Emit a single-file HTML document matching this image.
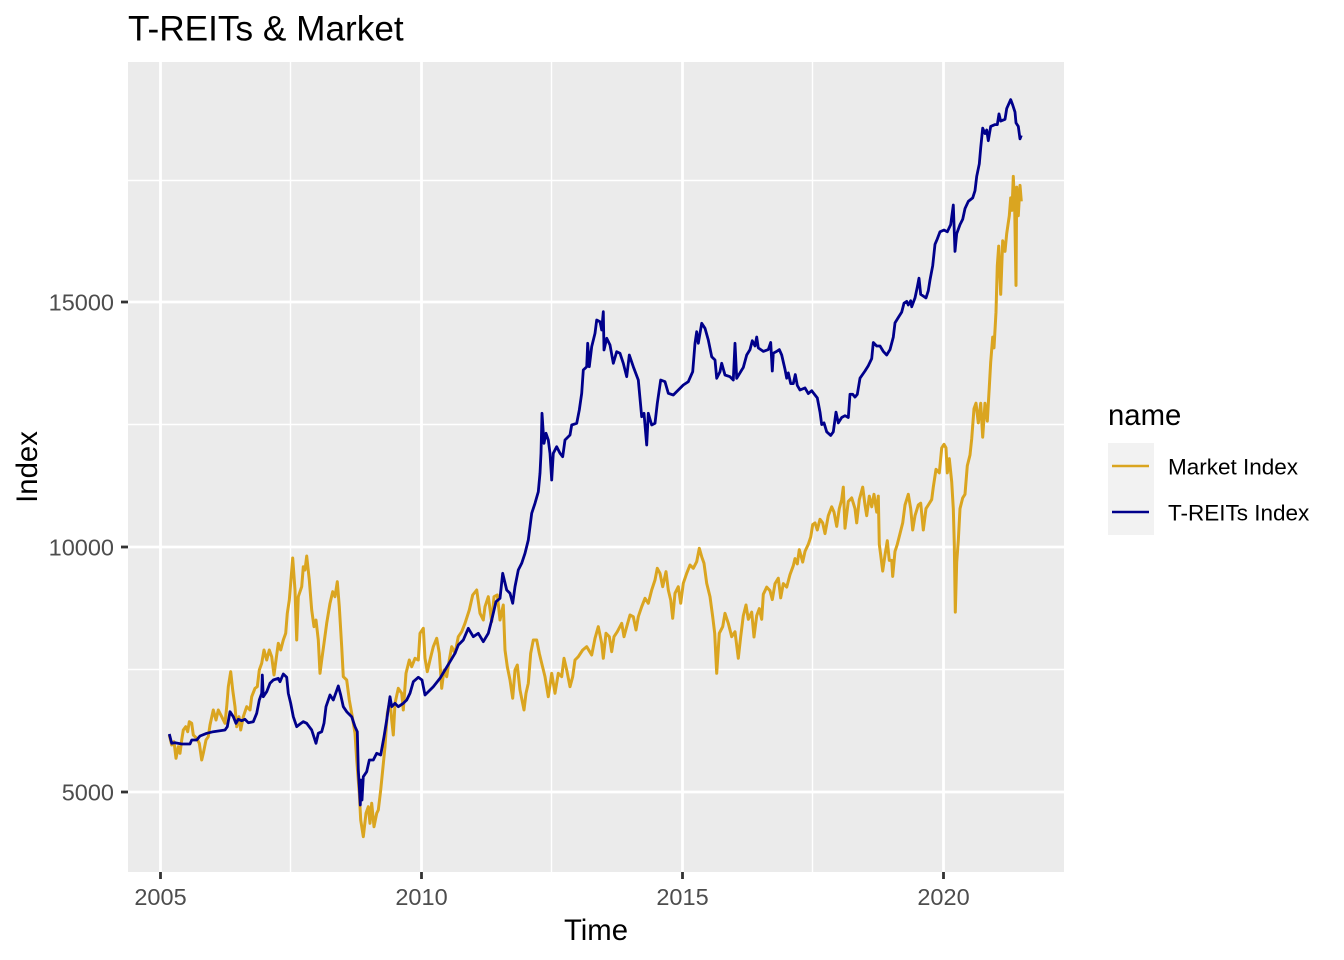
<!DOCTYPE html>
<html><head><meta charset="utf-8"><style>
html,body{margin:0;padding:0;background:#fff;}
svg{display:block;}
text{font-family:"Liberation Sans",Arial,sans-serif;}
</style></head><body>
<svg width="1344" height="960" viewBox="0 0 1344 960" xmlns="http://www.w3.org/2000/svg">
<rect x="0" y="0" width="1344" height="960" fill="#fff"/>
<text x="128" y="40.7" font-size="35.2" fill="#000">T-REITs &amp; Market</text>
<rect x="128" y="62" width="936" height="810" fill="#EBEBEB"/>
<g stroke="#fff" stroke-width="1.4">
<line x1="128" x2="1064" y1="180.5" y2="180.5"/>
<line x1="128" x2="1064" y1="424.5" y2="424.5"/>
<line x1="128" x2="1064" y1="669.5" y2="669.5"/>
<line x1="290.5" x2="290.5" y1="62" y2="872"/>
<line x1="551.5" x2="551.5" y1="62" y2="872"/>
<line x1="812.5" x2="812.5" y1="62" y2="872"/>
</g>
<g stroke="#fff" stroke-width="2.8">
<line x1="128" x2="1064" y1="302" y2="302"/>
<line x1="128" x2="1064" y1="547" y2="547"/>
<line x1="128" x2="1064" y1="792" y2="792"/>
<line x1="160.5" x2="160.5" y1="62" y2="872"/>
<line x1="421.5" x2="421.5" y1="62" y2="872"/>
<line x1="682.5" x2="682.5" y1="62" y2="872"/>
<line x1="943.5" x2="943.5" y1="62" y2="872"/>
</g>
<polyline fill="none" stroke="#DAA520" stroke-width="3.0" stroke-linejoin="round" points="169.3,735 171.7,745 174,741.7 176,758.3 178.3,746.7 180,753.3 181.7,740 183.3,730 185.7,726.7 187.7,731.7 189.3,721.7 191.7,723.3 193.3,735 196.7,738.3 199.3,743.3 201.7,760 203.3,753.3 206,740 208.3,736.7 210,725 213.3,710 216,720 218.3,710 221.7,716.7 225,723.3 226.7,706.7 228.3,686.7 230.7,671.7 232.7,690 235,706.7 236.7,726.7 239,716.7 240.7,730 243.3,716.7 246.7,706.7 250,710 251.7,696.7 255,688.3 257.3,686.7 259.3,670 261.7,663.3 264,650 266.7,660 269.3,650 271.7,656.7 274,675 276,660 278.3,643.3 280.7,650 283.3,640 285.7,633.3 287.3,613.3 289.3,600 290.7,583.3 292.7,558 295,590 296.7,640 298.3,596.7 301.7,586.7 303.3,566.7 305,570 306.7,556 309.3,580 311.7,610 314,626.7 316,620 318.3,640 320,673.3 321.7,660 324,643.3 326.7,623.3 330,603.3 332.7,591.7 335,596.7 337.3,581.7 339.3,606.7 341.7,646.7 343.3,676.7 346.7,680 349.3,700 351.7,713.3 355,733.3 356.7,760 359.3,793.3 360.7,820 363.3,836.7 366,813.3 368.3,806.7 370,823.3 371.7,803.3 374,826.7 376.7,813.3 378.3,810 380.7,790 382.7,770 385,746.7 387.3,713.3 390,700 391.7,720 393.3,735 395,703.3 398.3,688.3 401.7,693.3 403.3,710 406,673.3 409.3,660 411.7,666.7 415,658.3 418.3,660 420,633.3 423.3,628.3 425,658.3 427.3,671.7 430,660 433.3,646.7 436.7,638.3 439.3,653.3 441.7,688.3 444,670 446.7,676.7 449.3,660 451.7,646.7 455,653.3 458.3,636.7 461.7,631.7 465,623.3 469.3,610 472.7,595 476.7,590 480,613.3 483.3,620 485,606.7 488.3,596.7 491.7,621.7 494,596.7 497.3,595 500,620 503.3,605 505,650 507.3,666.7 510,680 512.7,698.3 515,670 517.3,665 520,690 524,710 526,693.3 528.3,683.3 530.7,653.3 533.3,640 536.7,640 539.3,653.3 541.7,663.3 545,676.7 548.3,696.7 551.7,673.3 555,693.3 558.3,673.3 561.7,676.7 564,658.3 566.7,670 570,686.7 572.7,676.7 575,660 578.3,656.7 582.7,650 586.7,646.7 591.7,655 595,638.3 598.3,626.7 601.7,643.3 603.3,658.3 606,633.3 609.3,636.7 611.7,651.7 614,636.7 617.3,631.7 621.7,623.3 624,636.7 626.7,626.7 630,615 633.3,616.7 636,630 638.3,616.7 641.7,606.7 645,598.3 648.3,603.3 651.7,590 655,580 657.3,568.3 660,573.3 662.7,586.7 666,571.7 668.3,590 670.7,600 672.7,618.3 675,593.3 678.3,586.7 680.7,603.3 683.3,583.3 686.7,573.3 690,565 693.3,568.3 696.7,561.7 699.3,548.3 701.7,556.7 704,563.3 706.7,583.3 710,596.7 712.7,616.7 714.7,633.3 716.7,673.3 719.3,633.3 722.7,626.7 725,613.3 728.3,623.3 731.7,636.7 735,631.7 738.3,658.3 740.7,636.7 743.3,615.7 746,605 748.3,619.3 751.7,612.1 754,637 756.7,615.7 759.3,608.6 761.7,619.3 763.3,594.3 766.7,587.1 770,590.7 772.3,599.6 775,583.6 778.3,578.2 780.7,597.9 783.3,583.6 786.7,587.1 790,574.6 793.3,565.7 795,558.6 797.3,563.9 799.3,549.6 802.7,562.1 805,551.4 808.3,544.3 810.7,537.1 812.7,524.6 815,522.9 817.3,530 820,519.3 822.7,522.9 825,533.6 828.3,515.7 831.7,506.8 834,512.1 836.7,526.4 839.3,508.6 841.7,499.6 843.3,487.1 845,528.2 848.3,501.4 851.7,497.9 855,508.6 856.7,522.9 859.3,499.6 862.7,487.1 865,505 866.7,515.7 869.3,496.1 871.7,506.8 874,494.3 876.7,512.1 878.3,496.1 879.3,544.3 880.7,555 882.7,571.1 885,555 887.3,540.7 889.3,560.4 891.7,560.4 892.7,576.4 895,551.4 897.3,544.3 900,533.6 902.7,522.9 905,505 908.3,494.3 910.7,508.6 912.7,530 915,515.7 918.3,505 920.7,503.2 923.3,530 926,508.6 928.3,505 931.7,499.6 933.3,487.1 936,469.3 939.3,472.9 941.7,447.9 944,444.3 946,447.9 947.3,472.9 949.3,458.6 951.7,481.8 953.3,508.6 954.3,544.3 955.3,612.1 956.7,562.1 958.3,540.7 960,508.6 962.7,497.9 965,494.3 967.3,465.7 970,455 971.7,438.9 974,408.6 976,403.2 978.3,422.9 980.7,403.2 982.7,437.1 985,403.2 987.3,421.1 989.3,387.1 990.7,362.1 992.7,337.1 994,347.9 996,312.1 997.3,265.7 998.7,246.1 1000.7,294.3 1002.7,240.7 1005,251.4 1006.7,233.6 1009.3,215.7 1010.7,197.9 1012,210.4 1013.3,176.4 1014.7,208.6 1016,285.4 1016.7,187.1 1018.3,215.7 1020,185.4 1021.3,201.4"/>
<polyline fill="none" stroke="#00008B" stroke-width="2.8" stroke-linejoin="round" points="169.3,734 171.7,743.3 175,742.7 181.7,744 190,744 191.7,740 196.7,740 200,736 206.7,733.3 213.3,731.7 225,730 227.3,726.7 230,711.7 233.3,716.7 236,723.3 238.3,719.3 241.7,720.7 245,719.3 248.3,722.7 253.3,721.7 256.7,713.3 259.3,700 261.7,693.3 262.3,675 263.3,696.7 266.7,691.7 270,683.3 273.3,680 278.3,678.3 280,681.7 283.3,674 286.7,677.3 288.3,693.3 290.7,703.3 293.3,716.7 296.7,726.7 300,724 303.3,721.7 306.7,723.3 311.7,730 316,743.3 318.3,733.3 321.7,731.7 324,723.3 326,706.7 330,695 333.3,700 338.3,686 340.7,695 343.3,706.7 346.7,711.7 351.7,716.7 355,726.7 357.3,731.7 358.3,770 359.5,790 360.3,805 361,780 362,800 363.3,776.7 366.7,771.7 369.3,760 373.3,760 376.7,753.3 380.7,755 384,736.7 386.7,720 390,696.7 391.7,706.7 395,703.3 398.3,706.7 403.3,703.3 406.7,700 410,693.3 413.3,681.7 418.3,677.3 422,680 425,695 433.3,686.7 440,678.3 445,670 450,661.7 455,653.3 458.3,645 463.3,640 468.3,628.3 473.3,636.7 478.3,633.3 483.3,641.7 488.3,633.3 491.7,620 496,601.7 500,598.3 502.7,573.3 506.7,590 510,593.3 512.7,603.3 515,586.7 518.3,570 521.7,563.3 525,553.3 528.3,540 531.7,513.3 535,503.3 538.3,491.7 540,473.3 541,453.3 542,413.3 544,443.3 546,433.3 548.3,440 550,453.3 551.7,480 553.3,453.3 556.7,446.7 560,453.3 562.7,456.7 565,440 570,435 571.7,425 576.7,423.3 579.3,410 581.7,393.3 583.3,370 586.7,366.7 587.7,343.3 589.3,366.7 591.7,346.7 595,333.3 596.7,320 600,321.7 601.7,330 603.3,311.7 604,350 606.7,338.3 610,345 613.3,363.3 616.7,351.7 620,353.3 623.3,363.3 626.7,376.7 629.3,355 633.3,366.7 638.3,380 641.7,416.7 644,413.3 646.7,445 648.3,413.3 651.7,425 655,423.3 657.3,403.3 660.7,380 665,381.7 668.3,393.3 673.3,395 678.3,390 683.3,385 688.3,381.7 692.7,371.7 695,343.3 696.7,331.7 698.3,343.3 701.7,323.3 705,328.3 708.3,340 711.7,356.7 715,360 716.7,378.3 720,371.7 721.7,363.3 725,375 730,376.7 733.3,380 735,343.3 736.7,378.3 741.7,370 743.3,367.5 746.7,355 750,349.6 752.3,340.7 755,346 756.7,337 758.3,347.9 763.3,351.4 768.3,349.6 770.7,342.5 772.3,371 773.3,353.2 776.7,351.4 779.3,349.6 781.7,355 785,369.3 786.7,378.2 788.3,372.9 790.7,383.6 793.3,383.6 795.3,374.6 797.3,385.4 800,390 805,387.9 808.3,393.6 811.7,390.7 815,395 817.3,397.9 820,412.1 821.7,424.6 824,422.9 826.7,431.8 830.7,435.4 833.3,431.8 836,412.1 838.3,422.9 841.7,417.5 845,415.7 848.3,417.5 850,394.3 852.7,394.3 855,397.1 857.3,394.3 860,378.2 865,371 868.3,365.7 871.7,358.6 873.3,342.5 876.7,346 880,346 883.3,351.4 886.7,355 890,349.6 893.3,337.1 895,322.9 898.3,317.5 901.7,312.1 904,303.2 906.7,301.4 908.3,305 910.7,300.7 911.7,306.8 915,297.9 917.3,287.1 919,278.2 920.7,294.3 923.3,296.1 926,297.9 928.3,290.7 930,280 932.7,265.7 935,244.3 937.3,238.9 940,231.8 944,230 947.3,231.8 950.7,224.6 953.3,205 955,251.4 956.7,233.6 960,224.6 962.7,219.3 965,208.6 968.3,201.4 972.7,197.9 975,190.7 976.7,176.4 979.3,163.9 980.7,147.9 982.7,128.2 985,133.6 986.7,130 988.3,140.7 990.7,126.4 995,124.6 997.3,124.6 999,113.9 1000.7,121.1 1005,119.3 1006.7,108.6 1010.7,99.6 1012.7,105 1015,112.1 1016,122.9 1018.3,126.4 1020,138.9 1021.3,135.4"/>
<g stroke="#333" stroke-width="2.8">
<line x1="121" x2="128" y1="302" y2="302"/>
<line x1="121" x2="128" y1="547" y2="547"/>
<line x1="121" x2="128" y1="792" y2="792"/>
<line x1="160.5" x2="160.5" y1="872" y2="879"/>
<line x1="421.5" x2="421.5" y1="872" y2="879"/>
<line x1="682.5" x2="682.5" y1="872" y2="879"/>
<line x1="943.5" x2="943.5" y1="872" y2="879"/>
</g>
<g font-size="23.5" fill="#4D4D4D" text-anchor="end">
<text x="114" y="310.4">15000</text>
<text x="114" y="555.4">10000</text>
<text x="114" y="800.4">5000</text>
</g>
<g font-size="23.5" fill="#4D4D4D" text-anchor="middle">
<text x="160.5" y="905">2005</text>
<text x="421.5" y="905">2010</text>
<text x="682.5" y="905">2015</text>
<text x="943.5" y="905">2020</text>
</g>
<text x="596" y="940" font-size="29.3" text-anchor="middle" fill="#000">Time</text>
<text transform="translate(37,467) rotate(-90)" font-size="29.3" text-anchor="middle" fill="#000">Index</text>
<text x="1108" y="425" font-size="29.3" fill="#000">name</text>
<rect x="1108" y="443" width="46" height="92" fill="#F2F2F2"/>
<line x1="1112" x2="1149" y1="466" y2="466" stroke="#DAA520" stroke-width="2.6"/>
<line x1="1112" x2="1149" y1="512" y2="512" stroke="#00008B" stroke-width="2.6"/>
<text x="1168" y="474.4" font-size="22.5" fill="#000">Market Index</text>
<text x="1168" y="520.4" font-size="22.5" fill="#000">T-REITs Index</text>
</svg>
</body></html>
